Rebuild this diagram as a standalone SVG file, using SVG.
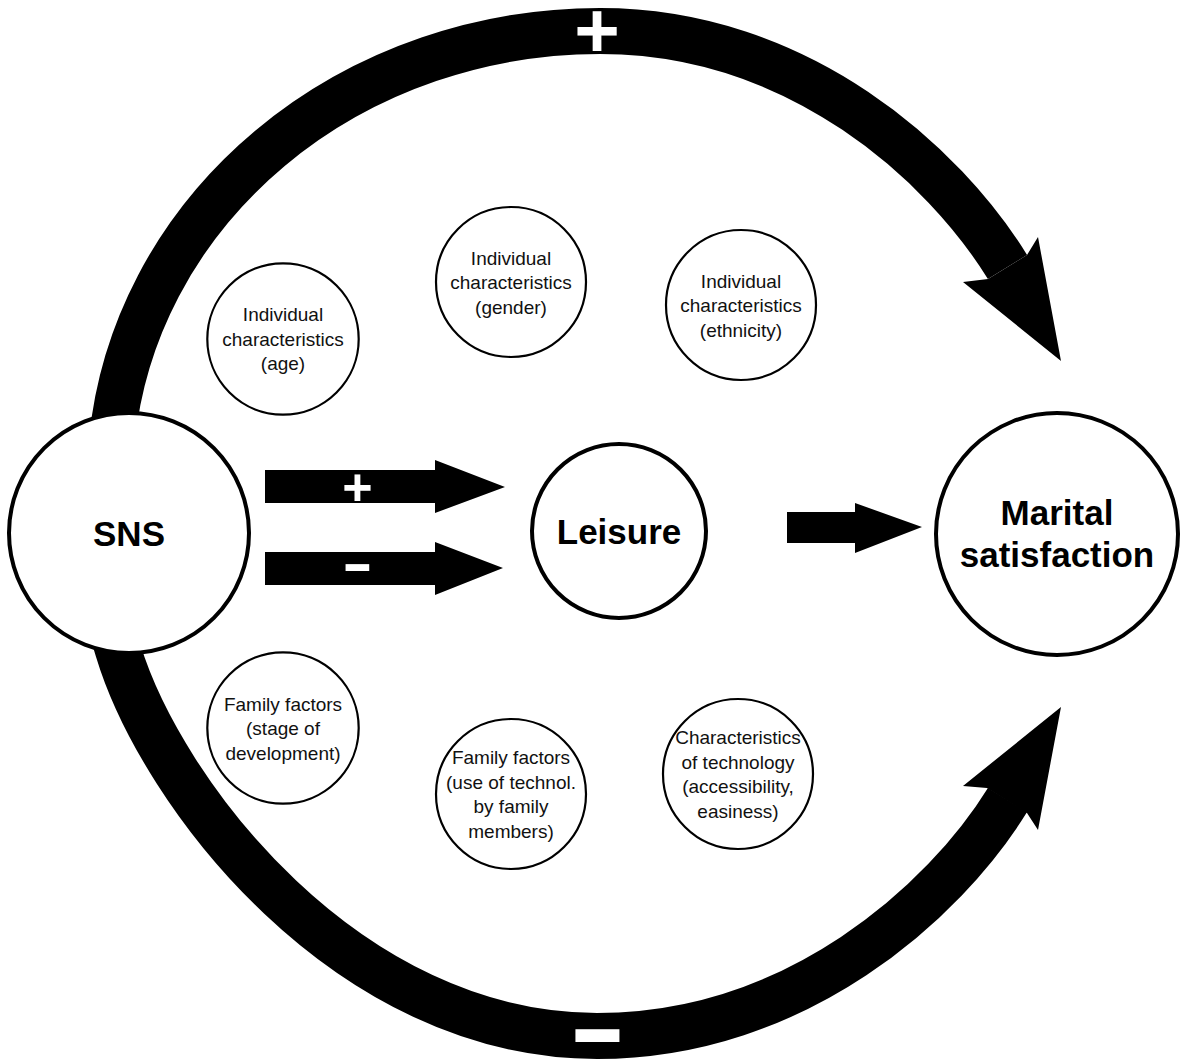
<svg xmlns="http://www.w3.org/2000/svg" width="1181" height="1059" viewBox="0 0 1181 1059">
<style>
.band{fill:none;stroke:#000;stroke-width:46;stroke-linejoin:round}
.head{fill:#000}
.big{fill:#fff;stroke:#000;stroke-width:4}
.small{fill:#fff;stroke:#000;stroke-width:2.2}
.t{font-family:"Liberation Sans",Arial,sans-serif;font-size:19px;fill:#111;text-anchor:middle}
.b{font-family:"Liberation Sans",Arial,sans-serif;font-size:35px;font-weight:bold;fill:#000;text-anchor:middle}
.sign{font-family:"Liberation Sans",Arial,sans-serif;font-weight:bold;fill:#fff;text-anchor:middle}
</style>
<rect width="1181" height="1059" fill="#fff"/>
<g id="connectors">
  <path class="band" d="M104 520 L112 440 A490 450 0 0 1 600 31 C800 31 944.6 165 1007.5 267"/>
  <polygon class="head" points="988,279 963,282 1061,361 1038,237 1027,255"/>
  <path class="band" d="M100.6 592.4 L118 650 C161.5 794 347 1036 597 1036 C797 1036 944.6 901.6 1007.5 800"/>
  <polygon class="head" points="987,788 963,786 1061,707 1038,830 1027,813"/>
  <polygon class="head" points="265,470 435,470 435,460 505,487 435,513 435,503 265,503"/>
  <polygon class="head" points="265,552 435,552 435,542 503,568 435,595 435,585 265,585"/>
  <polygon class="head" points="787,512 855,512 855,503 922,527 855,553 855,543 787,543"/>
  <text class="sign" x="597" y="57" font-size="78">+</text>
  <text class="sign" x="357.5" y="505" font-size="52">+</text>
  <text class="sign" font-size="108" transform="translate(597.5,1036) scale(1.6,1)" x="0" y="28">-</text>
  <text class="sign" font-size="58" transform="translate(357.5,568) scale(1.6,1)" x="0" y="15">-</text>
</g>
<g id="node-sns">
  <circle class="big" cx="129" cy="533" r="120"/>
  <text class="b" x="129" y="545.5">SNS</text>
</g>
<g id="node-leisure">
  <circle class="big" cx="619" cy="531" r="87"/>
  <text class="b" x="619" y="543.5">Leisure</text>
</g>
<g id="node-marital">
  <circle class="big" cx="1057" cy="534" r="121"/>
  <text class="b" x="1057" y="525">Marital</text>
  <text class="b" x="1057" y="567">satisfaction</text>
</g>
<g id="node-age">
  <circle class="small" cx="283" cy="339" r="75.7"/>
  <text class="t" x="283" y="321">Individual</text>
  <text class="t" x="283" y="345.5">characteristics</text>
  <text class="t" x="283" y="370">(age)</text>
</g>
<g id="node-gender">
  <circle class="small" cx="511" cy="282" r="75"/>
  <text class="t" x="511" y="264.5">Individual</text>
  <text class="t" x="511" y="289">characteristics</text>
  <text class="t" x="511" y="313.5">(gender)</text>
</g>
<g id="node-ethnicity">
  <circle class="small" cx="741" cy="305" r="75"/>
  <text class="t" x="741" y="287.5">Individual</text>
  <text class="t" x="741" y="312">characteristics</text>
  <text class="t" x="741" y="336.5">(ethnicity)</text>
</g>
<g id="node-family-stage">
  <circle class="small" cx="283" cy="728" r="75.7"/>
  <text class="t" x="283" y="710.5">Family factors</text>
  <text class="t" x="283" y="735">(stage of</text>
  <text class="t" x="283" y="759.5">development)</text>
</g>
<g id="node-family-tech">
  <circle class="small" cx="511" cy="794" r="75"/>
  <text class="t" x="511" y="764">Family factors</text>
  <text class="t" x="511" y="788.5">(use of technol.</text>
  <text class="t" x="511" y="813">by family</text>
  <text class="t" x="511" y="837.5">members)</text>
</g>
<g id="node-technology">
  <circle class="small" cx="738" cy="774" r="75"/>
  <text class="t" x="738" y="744">Characteristics</text>
  <text class="t" x="738" y="768.5">of technology</text>
  <text class="t" x="738" y="793">(accessibility,</text>
  <text class="t" x="738" y="817.5">easiness)</text>
</g>
</svg>
